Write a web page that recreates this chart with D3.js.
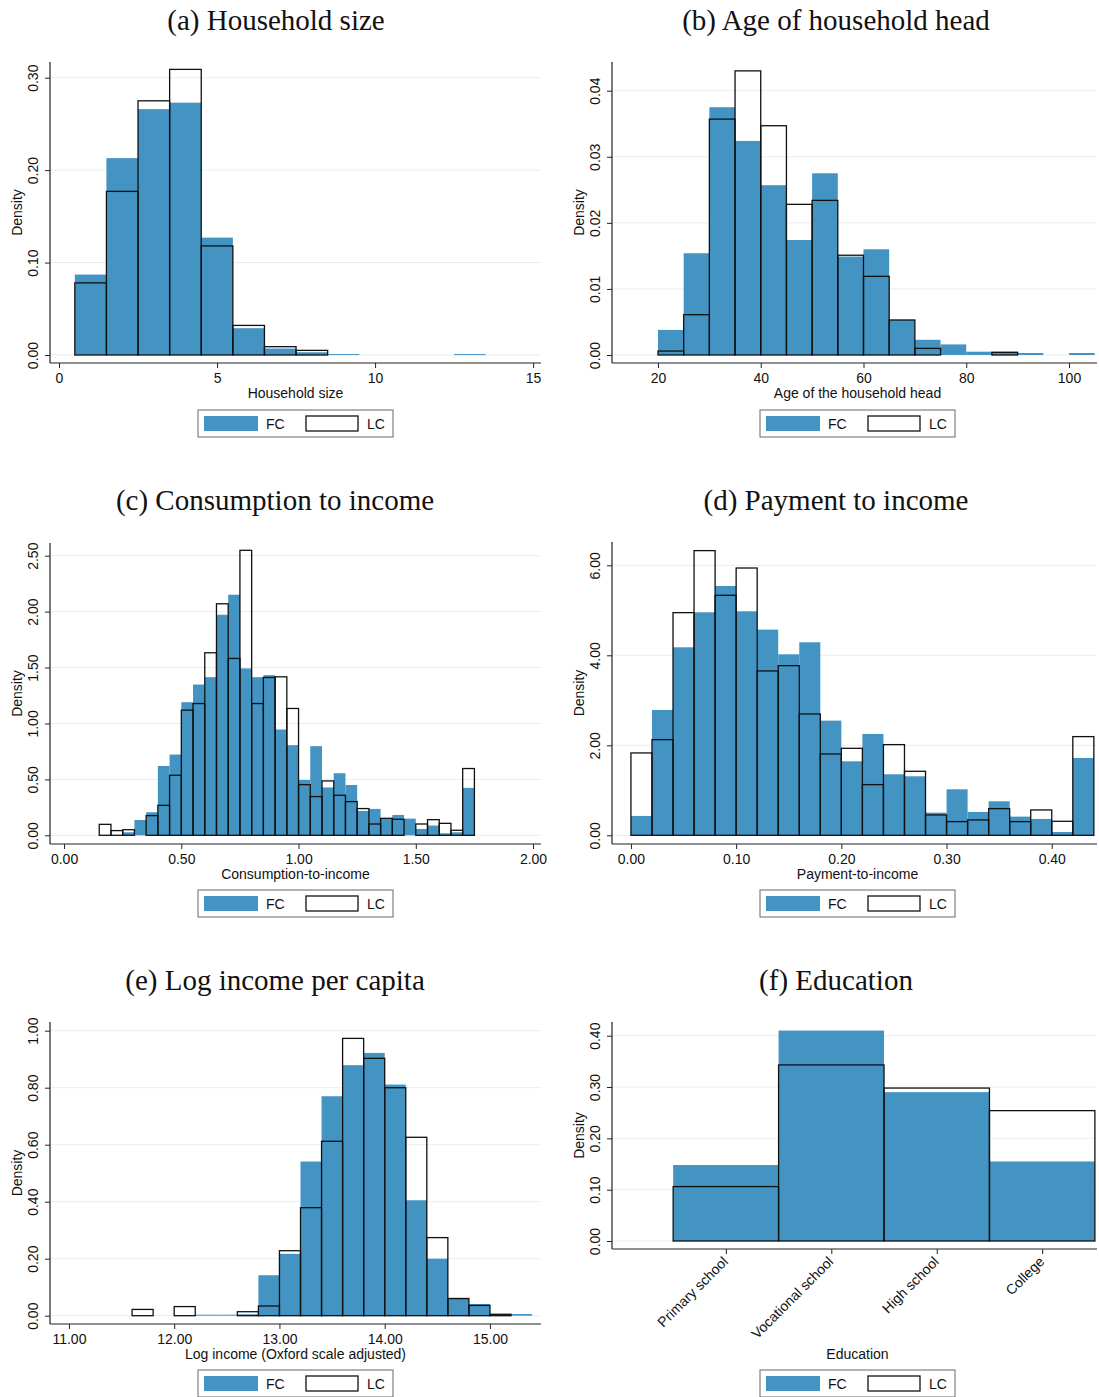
<!DOCTYPE html>
<html>
<head>
<meta charset="utf-8">
<script src="https://cdn.jsdelivr.net/npm/d3@7"></script>
<style>
body { margin: 0; background: #fff; }
svg text { font-family: "Liberation Sans", Arial, Helvetica, sans-serif; font-size: 14px; fill: #111; }
svg text.title { font-family: "Liberation Serif", "Times New Roman", serif; font-size: 29px; }
</style>
</head>
<body>
<div id="chart"></div>
<script>
// (a) household size, bins of width 1 (left edges)
var hhSizeStarts = [0.5, 1.5, 2.5, 3.5, 4.5, 5.5, 6.5, 7.5, 8.5, 9.5, 10.5, 11.5, 12.5];
var hhSizeFC = [0.087, 0.213, 0.266, 0.273, 0.127, 0.029, 0.007, 0.003, 0.001, 0, 0, 0, 0.001];
var hhSizeLC = [0.078, 0.177, 0.275, 0.309, 0.118, 0.032, 0.009, 0.005, 0, 0, 0, 0, 0];

// (b) age of household head, bins of width 5
var ageStarts = [20, 25, 30, 35, 40, 45, 50, 55, 60, 65, 70, 75, 80, 85, 90, 95, 100];
var ageFC = [0.0038, 0.0154, 0.0375, 0.0324, 0.0257, 0.0174, 0.0275, 0.0149, 0.0160, 0.0053, 0.0023, 0.0016, 0.0005, 0.0005, 0.0003, 0, 0.0003];
var ageLC = [0.0006, 0.0061, 0.0357, 0.0430, 0.0347, 0.0228, 0.0234, 0.0151, 0.0119, 0.0053, 0.0010, 0, 0, 0.0004, 0, 0, 0];

// (c) consumption to income, bins of width 0.05
var cinStarts = [0.15, 0.20, 0.25, 0.30, 0.35, 0.40, 0.45, 0.50, 0.55, 0.60, 0.65, 0.70, 0.75, 0.80, 0.85, 0.90,
                 0.95, 1.00, 1.05, 1.10, 1.15, 1.20, 1.25, 1.30, 1.35, 1.40, 1.45, 1.50, 1.55, 1.60, 1.65, 1.70];
var cinFC = [0, 0, 0.027, 0.137, 0.206, 0.62, 0.722, 1.19, 1.348, 1.414, 1.972, 2.151, 1.492, 1.414, 1.432, 0.946,
             0.806, 0.495, 0.797, 0.428, 0.555, 0.45, 0.218, 0.236, 0.149, 0.182, 0.149, 0.057, 0.087, 0.018, 0.027, 0.424];
var cinLC = [0.098, 0.042, 0.05, 0, 0.176, 0.268, 0.537, 1.119, 1.178, 1.632, 2.07, 1.581, 2.548, 1.178, 1.411, 1.417,
             1.134, 0.453, 0.346, 0.486, 0.358, 0.301, 0.239, 0.101, 0.152, 0.143, 0, 0.101, 0.140, 0.107, 0.045, 0.597];

// (d) payment to income, bins of width 0.02
var pinStarts = [0, 0.02, 0.04, 0.06, 0.08, 0.10, 0.12, 0.14, 0.16, 0.18, 0.20,
                 0.22, 0.24, 0.26, 0.28, 0.30, 0.32, 0.34, 0.36, 0.38, 0.40, 0.42];
var pinFC = [0.43, 2.785, 4.178, 4.956, 5.54, 4.978, 4.57, 4.022, 4.289, 2.548, 1.644,
             2.252, 1.356, 1.311, 0.504, 1.022, 0.519, 0.756, 0.415, 0.363, 0.074, 1.719];
var pinLC = [1.83, 2.126, 4.948, 6.326, 5.333, 5.94, 3.652, 3.77, 2.696, 1.807, 1.933,
             1.126, 2.015, 1.422, 0.452, 0.304, 0.341, 0.593, 0.304, 0.563, 0.311, 2.193];

// (e) log income per capita, bins of width 0.2
var incStarts = [11.6, 11.8, 12.0, 12.2, 12.4, 12.6, 12.8, 13.0, 13.2, 13.4, 13.6, 13.8, 14.0, 14.2, 14.4, 14.6, 14.8, 15.0, 15.2];
var incFC = [0, 0, 0, 0.0035, 0.0035, 0.005, 0.142, 0.217, 0.541, 0.770, 0.879, 0.922, 0.811, 0.405, 0.200, 0.063, 0.041, 0.006, 0.006];
var incLC = [0.022, 0, 0.032, 0, 0, 0.014, 0.034, 0.228, 0.379, 0.612, 0.973, 0.903, 0.80, 0.626, 0.274, 0.060, 0.036, 0.005, 0];

// (f) education
var eduCats = ["Primary school", "Vocational school", "High school", "College"];
var eduFC = [0.148, 0.410, 0.290, 0.155];
var eduLC = [0.106, 0.343, 0.298, 0.254];

var fcColor = "#4393c3";

var svg = d3.select("#chart").append("svg")
    .attr("width", 1099)
    .attr("height", 1397);

function drawHist(p) {
    var g = svg.append("g");
    var x = d3.scaleLinear().domain(p.xDomain).range([p.left, p.right]);
    var y = d3.scaleLinear().domain([0, p.yRef]).range([p.zeroY, p.refY]);

    // title
    g.append("text").attr("class", "title")
        .attr("x", p.titleX).attr("y", p.titleY)
        .attr("text-anchor", "middle")
        .text(p.title);

    // grid lines
    g.selectAll(".grid").data(p.yTicks).enter().append("line")
        .attr("x1", p.left).attr("x2", p.right)
        .attr("y1", function(d) { return y(d); })
        .attr("y2", function(d) { return y(d); })
        .attr("stroke", "#e6eff1").attr("stroke-width", 1);

    var fcData = p.fc.map(function(v, i) { return {x0: p.starts[i], v: v}; }).filter(function(d) { return d.v > 0; });
    var lcData = p.lc.map(function(v, i) { return {x0: p.starts[i], v: v}; }).filter(function(d) { return d.v > 0; });

    g.selectAll(".fc").data(fcData).enter().append("rect")
        .attr("x", function(d) { return x(d.x0); })
        .attr("width", function(d) { return x(d.x0 + p.bw) - x(d.x0); })
        .attr("y", function(d) { return y(d.v); })
        .attr("height", function(d) { return Math.max(1, y(0) - y(d.v)); })
        .attr("fill", fcColor);

    g.selectAll(".lc").data(lcData).enter().append("rect")
        .attr("x", function(d) { return x(d.x0); })
        .attr("width", function(d) { return x(d.x0 + p.bw) - x(d.x0); })
        .attr("y", function(d) { return y(d.v); })
        .attr("height", function(d) { return y(0) - y(d.v); })
        .attr("fill", "none")
        .attr("stroke", "#111").attr("stroke-width", 1.3);

    // y axis
    var yAxis = d3.axisLeft(y).tickValues(p.yTicks).tickFormat(d3.format(".2f")).tickSize(5);
    var ya = g.append("g").attr("transform", "translate(" + p.left + ",0)").call(yAxis);
    ya.select(".domain").remove();
    ya.selectAll(".tick line").attr("stroke", "#222");
    ya.selectAll(".tick text")
        .attr("x", null).attr("dy", "0.35em")
        .attr("transform", "translate(-17,0) rotate(-90)")
        .attr("text-anchor", "middle")
        .style("font-size", "14px").style("font-family", null);
    g.append("line").attr("x1", p.left).attr("x2", p.left)
        .attr("y1", p.top).attr("y2", p.bottom)
        .attr("stroke", "#222").attr("stroke-width", 1.2);

    // x axis
    var xAxis = d3.axisBottom(x).tickValues(p.xTicks).tickFormat(p.xFormat).tickSize(5).tickPadding(5);
    var xa = g.append("g").attr("transform", "translate(0," + p.bottom + ")").call(xAxis);
    xa.select(".domain").remove();
    xa.selectAll(".tick line").attr("stroke", "#222");
    xa.selectAll(".tick text").style("font-size", "14px").style("font-family", null);
    if (p.rotateX) {
        xa.selectAll(".tick text")
            .attr("y", 0).attr("dy", "0.35em")
            .attr("transform", "translate(-1,10) rotate(-45)")
            .attr("text-anchor", "end");
    }
    g.append("line").attr("x1", p.left).attr("x2", p.right)
        .attr("y1", p.bottom).attr("y2", p.bottom)
        .attr("stroke", "#222").attr("stroke-width", 1.2);

    // axis titles
    g.append("text")
        .attr("transform", "translate(" + (p.left - 33) + "," + ((p.top + p.bottom) / 2) + ") rotate(-90)")
        .attr("dy", "0.35em")
        .attr("text-anchor", "middle")
        .text("Density");
    g.append("text")
        .attr("x", p.midX).attr("y", p.xTitleY)
        .attr("text-anchor", "middle")
        .text(p.xTitle);

    // legend
    var lx = p.midX - 97.5;
    var lg = g.append("g").attr("transform", "translate(" + lx + "," + p.legendY + ")");
    lg.append("rect").attr("width", 195).attr("height", 27)
        .attr("fill", "#fff").attr("stroke", "#666").attr("stroke-width", 1);
    lg.append("rect").attr("x", 6).attr("y", 6).attr("width", 54).attr("height", 15).attr("fill", fcColor);
    lg.append("text").attr("x", 68).attr("y", 19).text("FC");
    lg.append("rect").attr("x", 108).attr("y", 6).attr("width", 52).attr("height", 15)
        .attr("fill", "#fff").attr("stroke", "#111").attr("stroke-width", 1.3);
    lg.append("text").attr("x", 169).attr("y", 19).text("LC");
}

var f2 = d3.format(".2f");

var panels = [
    {title: "(a) Household size", xTitle: "Household size", titleX: 276, titleY: 29.5, midX: 295.5,
     left: 50, right: 541, top: 62, bottom: 363, zeroY: 355, yRef: 0.3, refY: 77.7,
     xDomain: [-0.285, 15.25], xTicks: [0, 5, 10, 15], xFormat: d3.format("d"),
     yTicks: [0, 0.1, 0.2, 0.3], starts: hhSizeStarts, bw: 1, fc: hhSizeFC, lc: hhSizeLC,
     xTitleY: 398, legendY: 410},
    {title: "(b) Age of household head", xTitle: "Age of the household head", titleX: 836, titleY: 29.5, midX: 857.5,
     left: 612, right: 1097, top: 62, bottom: 363, zeroY: 355, yRef: 0.04, refY: 90.7,
     xDomain: [11.05, 105.45], xTicks: [20, 40, 60, 80, 100], xFormat: d3.format("d"),
     yTicks: [0, 0.01, 0.02, 0.03, 0.04], starts: ageStarts, bw: 5, fc: ageFC, lc: ageLC,
     xTitleY: 398, legendY: 410},
    {title: "(c) Consumption to income", xTitle: "Consumption-to-income", titleX: 275, titleY: 510, midX: 295.5,
     left: 50, right: 541, top: 543, bottom: 844, zeroY: 835.3, yRef: 2.5, refY: 555.7,
     xDomain: [-0.06, 2.034], xTicks: [0, 0.5, 1, 1.5, 2], xFormat: f2,
     yTicks: [0, 0.5, 1, 1.5, 2, 2.5], starts: cinStarts, bw: 0.05, fc: cinFC, lc: cinLC,
     xTitleY: 879, legendY: 890},
    {title: "(d) Payment to income", xTitle: "Payment-to-income", titleX: 836, titleY: 510, midX: 857.5,
     left: 612, right: 1097, top: 542, bottom: 844, zeroY: 835.3, yRef: 6, refY: 565.3,
     xDomain: [-0.018, 0.443], xTicks: [0, 0.1, 0.2, 0.3, 0.4], xFormat: f2,
     yTicks: [0, 2, 4, 6], starts: pinStarts, bw: 0.02, fc: pinFC, lc: pinLC,
     xTitleY: 879, legendY: 890},
    {title: "(e) Log income per capita", xTitle: "Log income (Oxford scale adjusted)", titleX: 275, titleY: 990, midX: 295.5,
     left: 50, right: 541, top: 1022, bottom: 1324, zeroY: 1315.7, yRef: 1.0, refY: 1030.7,
     xDomain: [10.82, 15.485], xTicks: [11, 12, 13, 14, 15], xFormat: f2,
     yTicks: [0, 0.2, 0.4, 0.6, 0.8, 1.0], starts: incStarts, bw: 0.2, fc: incFC, lc: incLC,
     xTitleY: 1359, legendY: 1370},
    {title: "(f) Education", xTitle: "Education", titleX: 836, titleY: 990, midX: 857.5,
     left: 612, right: 1097, top: 1022, bottom: 1249, zeroY: 1241, yRef: 0.4, refY: 1035.7,
     xDomain: [-0.08, 4.52], xTicks: [1, 2, 3, 4], xFormat: function(d) { return eduCats[d - 1]; },
     yTicks: [0, 0.1, 0.2, 0.3, 0.4], starts: eduCats.map(function(c, i) { return i + 0.5; }), bw: 1,
     fc: eduFC, lc: eduLC, rotateX: true,
     xTitleY: 1359, legendY: 1370}
];

panels.forEach(drawHist);
</script>
</body>
</html>
